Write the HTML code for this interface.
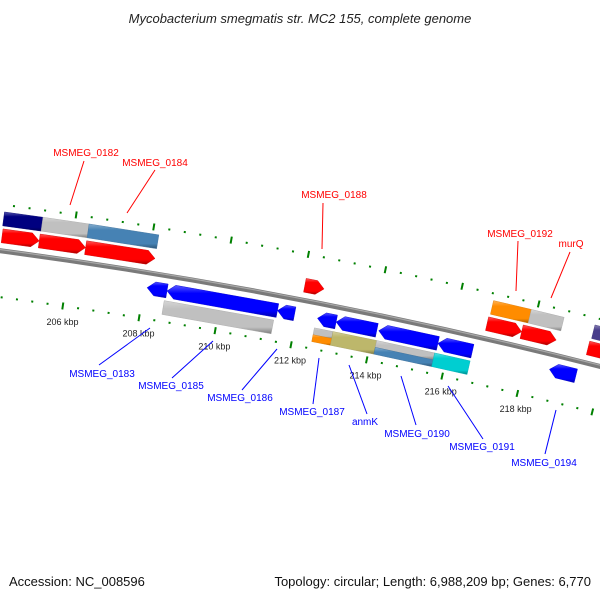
<!DOCTYPE html>
<html><head><meta charset="utf-8">
<style>
html,body{margin:0;padding:0;background:#fff;}
svg{display:block;font-family:"Liberation Sans","DejaVu Sans",sans-serif;}
</style></head>
<body>
<svg id="map" width="600" height="600" viewBox="0 0 600 600" xmlns="http://www.w3.org/2000/svg">
<defs id="defs"></defs>
<text x="300" y="23" text-anchor="middle" font-size="13" font-style="italic" fill="#222">Mycobacterium smegmatis str. MC2 155, complete genome</text>
<g id="ticks"></g>
<g id="backbone"></g>
<g id="features"></g>
<g id="labels">
<g stroke="#ff0000" stroke-width="1">
<line x1="84" y1="161" x2="70" y2="205"/>
<line x1="155" y1="170" x2="127" y2="213"/>
<line x1="323" y1="203" x2="322" y2="249"/>
<line x1="518" y1="241" x2="516" y2="291"/>
<line x1="570" y1="252" x2="551" y2="298"/>
</g>
<g fill="#ff0000" font-size="10" text-anchor="middle">
<text x="86" y="156">MSMEG_0182</text>
<text x="155" y="166">MSMEG_0184</text>
<text x="334" y="198">MSMEG_0188</text>
<text x="520" y="237">MSMEG_0192</text>
<text x="571" y="247">murQ</text>
</g>
<g stroke="#0000ff" stroke-width="1">
<line x1="99" y1="365" x2="150" y2="328"/>
<line x1="172" y1="378" x2="213" y2="341"/>
<line x1="242" y1="390" x2="277" y2="349"/>
<line x1="313" y1="404" x2="319" y2="358"/>
<line x1="367" y1="414" x2="349" y2="365"/>
<line x1="416" y1="425" x2="401" y2="376"/>
<line x1="483" y1="439" x2="448" y2="386"/>
<line x1="545" y1="454" x2="556" y2="410"/>
</g>
<g fill="#0000ff" font-size="10" text-anchor="middle">
<text x="102" y="377">MSMEG_0183</text>
<text x="171" y="389">MSMEG_0185</text>
<text x="240" y="401">MSMEG_0186</text>
<text x="312" y="415">MSMEG_0187</text>
<text x="365" y="425">anmK</text>
<text x="417" y="437">MSMEG_0190</text>
<text x="482" y="450">MSMEG_0191</text>
<text x="544" y="466">MSMEG_0194</text>
</g>
</g>
<text x="9" y="586" font-size="13" fill="#111">Accession: NC_008596</text>
<text x="591" y="586" font-size="13" fill="#111" text-anchor="end">Topology: circular; Length: 6,988,209 bp; Genes: 6,770</text>
</svg>
<script>
// ---- data (kbp positions) ----
const fwdStarts = [204.20, 205.16, 206.36, 212.06, 216.83, 217.74, 219.49];
const fwdEnds   = [205.16, 206.36, 208.16, 212.56, 217.74, 218.65, 220.30];
const revStarts = [208.08, 208.60, 211.49, 212.54, 213.03, 214.15, 215.71, 218.66];
const revEnds   = [208.60, 211.49, 211.94, 213.03, 214.10, 215.71, 216.62, 219.36];
const fwdCogStarts = [204.18, 205.17, 206.36, 216.86, 217.85, 219.52];
const fwdCogEnds   = [205.17, 206.36, 208.16, 217.85, 218.71, 220.30];
const fwdCogColors = ['#000080', '#c0c0c0', '#4682b4', '#ff8c00', '#c0c0c0', '#483d8b'];
const revCogStarts = [208.57, 212.51, 212.51, 213.00, 214.15, 214.15, 215.68];
const revCogEnds   = [211.44, 213.00, 213.00, 214.15, 215.68, 215.68, 216.62];
const revCogColors = ['#c0c0c0', '#c0c0c0', '#ff8c00', '#bdb76b', '#c0c0c0', '#4682b4', '#00ced1'];
const revCogPart   = ['full', 'top', 'bottom', 'full', 'top', 'bottom', 'full'];
const tickLabels = [206, 208, 210, 212, 214, 216, 218];
const tickMin = 203.2, tickMax = 221.2, majorStep = 2, minorStep = 0.4;

// ---- axis (polar) ----
const CX = -702, CY = 5504, R = 5300, PHI0 = -81.63, DEG_PER_KBP = 0.4208;
function ang(k){ return (PHI0 + (k - 206) * DEG_PER_KBP) * Math.PI / 180; }
function pt(k, d){ const a = ang(k), r = R + d; return [CX + r*Math.cos(a), CY + r*Math.sin(a)]; }
const NS = 'http://www.w3.org/2000/svg';
function mk(tag, attrs, parent){ const e = document.createElementNS(NS, tag); for (const k in attrs) e.setAttribute(k, attrs[k]); parent.appendChild(e); return e; }
function ptsStr(arr){ return arr.map(p => p[0].toFixed(2)+','+p[1].toFixed(2)).join(' '); }

const defs = document.getElementById('defs');
const gradCache = {};
function shade(hex, f){
  const n = parseInt(hex.slice(1),16); let r=(n>>16)&255,g=(n>>8)&255,b=n&255;
  if (f>0){ r=r+(255-r)*f; g=g+(255-g)*f; b=b+(255-b)*f; } else { r=r*(1+f); g=g*(1+f); b=b*(1+f); }
  return 'rgb('+Math.round(r)+','+Math.round(g)+','+Math.round(b)+')';
}
function grad(color){
  if (gradCache[color]) return gradCache[color];
  const id = 'g' + color.slice(1);
  const lg = mk('linearGradient', {id:id, x1:'0', y1:'0', x2:'0', y2:'1'}, defs);
  mk('stop', {offset:'0', 'stop-color':shade(color,0.35)}, lg);
  mk('stop', {offset:'0.25', 'stop-color':color}, lg);
  mk('stop', {offset:'0.8', 'stop-color':color}, lg);
  mk('stop', {offset:'1', 'stop-color':shade(color,-0.35)}, lg);
  gradCache[color] = 'url(#'+id+')';
  return gradCache[color];
}

// ---- backbone ----
const bb = document.getElementById('backbone');
(function(){
  const a = pt(203, 0), b = pt(221.5, 0);
  const p = mk('path', {d:'M'+a[0]+','+a[1]+' A'+R+','+R+' 0 0 1 '+b[0]+','+b[1], stroke:'#7a7a7a', 'stroke-width':'5', fill:'none'}, bb);
  
  
  const a2 = pt(203, 1.2), b2 = pt(221.5, 1.2);
  const h = mk('path', {d:'M'+a2[0]+','+a2[1]+' A'+(R+1.2)+','+(R+1.2)+' 0 0 1 '+b2[0]+','+b2[1], stroke:'#a8a8a8', 'stroke-width':'1.2', fill:'none'}, bb);
  
  
})();

// ---- ticks ----
const tg = document.getElementById('ticks');
const nTicks = Math.round((tickMax - tickMin) / minorStep);
for (let i = 0; i <= nTicks; i++){
  const k = +(tickMin + i*minorStep).toFixed(2);
  const major = Math.abs(k/majorStep - Math.round(k/majorStep)) < 0.01;
  [46, -46].forEach(d => {
    const half = major ? 3.5 : 1;
    const p1 = pt(k, d - half), p2 = pt(k, d + half);
    const l = mk('line', {x1:p1[0], y1:p1[1], x2:p2[0], y2:p2[1], stroke:'#008000', 'stroke-width': major ? 2 : 2}, tg);
    
    
  });
}
tickLabels.forEach(k => {
  const p = pt(k, -62);
  const t = mk('text', {x:(p[0]+2).toFixed(1), y:(p[1]+3).toFixed(1), 'font-size':'9', 'text-anchor':'middle', fill:'#222'}, tg);
  t.textContent = k + ' kbp';
  
  
});

// ---- features ----
const fg = document.getElementById('features');
const HEAD = 0.2;
function arrow(s, e, dc, color, forward, name){
  const h = 7;
  let pts;
  if (forward){
    const m = Math.max(s, e - HEAD);
    pts = [pt(s, dc+h), pt(m, dc+h), pt(e, dc), pt(m, dc-h), pt(s, dc-h)];
  } else {
    const m = Math.min(e, s + HEAD);
    pts = [pt(s, dc), pt(m, dc+h), pt(e, dc+h), pt(e, dc-h), pt(m, dc-h)];
  }
  const p = mk('polygon', {points:ptsStr(pts), fill:grad(color), stroke:shade(color,-0.2), 'stroke-width':'0.4'}, fg);
  
  
}
function bar(s, e, d1, d2, color, name){
  const pts = [pt(s, d2), pt(e, d2), pt(e, d1), pt(s, d1)];
  const p = mk('polygon', {points:ptsStr(pts), fill:grad(color), stroke:shade(color,-0.15), 'stroke-width':'0.4'}, fg);
  
  
}
fwdStarts.forEach((s, i) => arrow(s, fwdEnds[i], 15, '#ff0000', true, 'forward-gene'));
revStarts.forEach((s, i) => arrow(s, revEnds[i], -15, '#0000ff', false, 'reverse-gene'));
fwdCogStarts.forEach((s, i) => bar(s, fwdCogEnds[i], 25, 39, fwdCogColors[i], 'forward-cog-bar'));
revCogStarts.forEach((s, i) => {
  const part = revCogPart[i];
  let d1 = -39, d2 = -25;
  if (part === 'top'){ d1 = -32; d2 = -25; }
  if (part === 'bottom'){ d1 = -39; d2 = -32; }
  bar(s, revCogEnds[i], d1, d2, revCogColors[i], 'reverse-cog-bar');
});
</script>
</body></html>
